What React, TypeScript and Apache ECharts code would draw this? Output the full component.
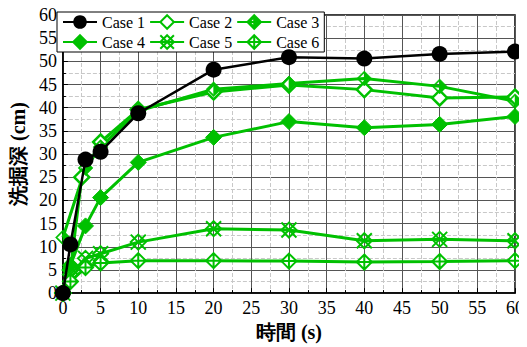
import React, { useEffect, useRef } from "react";
import * as echarts from "echarts";

const caseNames = ["Case 1", "Case 2", "Case 3", "Case 4", "Case 5", "Case 6"];
const times1 = [0, 1, 3, 5, 10, 20, 30, 40, 50, 60];
const depth1 = [0, 10.5, 28.8, 30.5, 38.8, 48.2, 50.9, 50.6, 51.6, 52.1];
const times2 = [0, 1, 2.5, 5, 10, 20, 30, 40, 50, 60];
const depth2 = [0, 5, 25, 32.6, 39.6, 43.4, 44.9, 43.9, 42.1, 42.3];
const times3 = [0, 3, 5, 10, 20, 30, 40, 50, 60];
const depth3 = [12, 27, 31.5, 39.3, 44, 45.2, 46.3, 44.6, 41.4];
const times4 = [0, 1, 3, 5, 10, 20, 30, 40, 50, 60];
const depth4 = [0, 6, 14.5, 20.6, 28.2, 33.6, 37, 35.7, 36.4, 38.1];
const times5 = [0, 1, 3, 5, 10, 20, 30, 40, 50, 60];
const depth5 = [0, 4, 7.5, 8.5, 11, 13.9, 13.6, 11.3, 11.6, 11.3];
const times6 = [0, 1, 3, 5, 10, 20, 30, 40, 50, 60];
const depth6 = [0, 2.5, 5.5, 6.5, 7, 7, 6.9, 6.7, 6.8, 7];
const xTitle = "時間 (s)";
const yTitle = "洗掘深 (cm)";

const GREEN = "#00c000";
const SERIF = "Liberation Serif";

const pairs = (xs: number[], ys: number[]) => xs.map((x, i) => [x, ys[i]]);

export default function App() {
  const ref = useRef<HTMLDivElement>(null);
  useEffect(() => {
    if (!ref.current) return;
    const chart = echarts.init(ref.current, undefined, { renderer: "svg" });
    const greenLine = { color: GREEN, width: 3 };
    const series: any[] = [
      {
        name: caseNames[1],
        type: "line",
        data: pairs(times2, depth2),
        symbol: "diamond",
        symbolSize: 15,
        lineStyle: greenLine,
        itemStyle: { color: "#ffffff", borderColor: GREEN, borderWidth: 2.5 },
      },
      {
        name: caseNames[2],
        type: "line",
        data: pairs(times3, depth3),
        symbol: "path://M10 0 L20 10 L10 20 L0 10 Z M10 2.5 L2.5 10 L10 17.5 Z",
        symbolSize: 15,
        lineStyle: greenLine,
        itemStyle: { color: GREEN, borderColor: GREEN, borderWidth: 0.5 },
      },
      {
        name: caseNames[3],
        type: "line",
        data: pairs(times4, depth4),
        symbol: "diamond",
        symbolSize: 16,
        lineStyle: greenLine,
        itemStyle: { color: GREEN, borderColor: GREEN, borderWidth: 1 },
      },
      {
        name: caseNames[4],
        type: "line",
        data: pairs(times5, depth5),
        symbol: "path://M0 0 L20 20 M20 0 L0 20 M10 0 L20 10 L10 20 L0 10 Z",
        symbolSize: 15,
        lineStyle: greenLine,
        itemStyle: { color: "transparent", borderColor: GREEN, borderWidth: 2 },
      },
      {
        name: caseNames[5],
        type: "line",
        data: pairs(times6, depth6),
        symbol: "path://M10 0 L20 10 L10 20 L0 10 Z M10 0 L10 20 M0 10 L20 10",
        symbolSize: 15,
        lineStyle: greenLine,
        itemStyle: { color: "#ffffff", borderColor: GREEN, borderWidth: 2 },
      },
      {
        name: caseNames[0],
        type: "line",
        data: pairs(times1, depth1),
        symbol: "circle",
        symbolSize: 16,
        lineStyle: { color: "#000000", width: 2.5 },
        itemStyle: { color: "#000000" },
        z: 5,
      },
    ];
    const axisCommon = {
      type: "value",
      min: 0,
      max: 60,
      interval: 5,
      axisLine: { show: true, lineStyle: { color: "#000", width: 1.5 } },
      axisTick: { show: true, inside: true, length: 5, lineStyle: { color: "#000", width: 1 } },
      minorTick: { show: true, splitNumber: 2, length: 3, lineStyle: { color: "#000", width: 1 } },
      axisLabel: { color: "#000", fontSize: 18, fontFamily: SERIF, margin: 6 },
      splitLine: { show: true, lineStyle: { color: "#555", width: 1, type: "solid" } },
      minorSplitLine: { show: true, lineStyle: { color: "#c8c8c8", width: 1, type: "dashed" } },
      nameLocation: "middle",
      nameTextStyle: { fontFamily: SERIF, fontSize: 20, fontWeight: "bold", color: "#000" },
    };
    chart.setOption({
      animation: false,
      backgroundColor: "#ffffff",
      grid: {
        left: 61,
        right: 8,
        top: 15,
        bottom: 47,
        show: true,
        borderColor: "#000",
        borderWidth: 1.5,
        backgroundColor: "transparent",
      },
      legend: {
        data: caseNames,
        left: 57,
        top: 12,
        width: 275,
        orient: "horizontal",
        itemWidth: 34,
        itemHeight: 17,
        itemGap: 4,
        padding: [2, 5, 2, 5],
        backgroundColor: "#ffffff",
        borderColor: "#000",
        borderWidth: 1,
        textStyle: { color: "#000", fontSize: 16, fontFamily: SERIF },
      },
      xAxis: { ...axisCommon, name: xTitle, nameGap: 23 },
      yAxis: { ...axisCommon, name: yTitle, nameGap: 30, nameRotate: 90 },
      series,
    });
    return () => chart.dispose();
  }, []);
  return <div ref={ref} style={{ width: 527, height: 347, position: "relative", left: -8, top: -8 }} />;
}
